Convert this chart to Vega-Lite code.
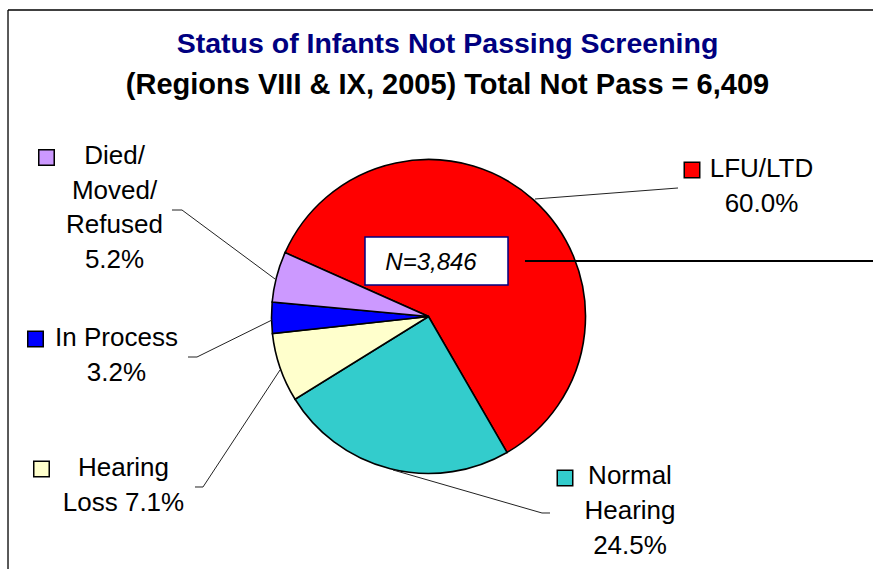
{
  "$schema": "https://vega.github.io/schema/vega-lite/v6.json",
  "width": 873,
  "height": 569,
  "padding": 0,
  "autosize": "none",
  "background": "white",
  "config": {"view": {"stroke": null}, "legend": {"disable": true}},
  "title": {
    "text": "Status of Infants Not Passing Screening",
    "subtitle": "(Regions VIII & IX, 2005) Total Not Pass = 6,409",
    "font": "Liberation Sans",
    "fontSize": 28.5,
    "fontWeight": "bold",
    "color": "#000080",
    "subtitleFont": "Liberation Sans",
    "subtitleFontSize": 29,
    "subtitleFontWeight": "bold",
    "subtitleColor": "#000000",
    "subtitlePadding": 13,
    "anchor": "middle",
    "frame": "group",
    "dx": 11,
    "offset": -100
  },
  "data": {
    "values": [
      {"cat": "LFU/LTD", "pct": 60.0, "ord": 1, "label": "LFU/LTD\n60.0%", "nText": "N=3,846"},
      {"cat": "Normal Hearing", "pct": 24.5, "ord": 2, "label": "Normal\nHearing\n24.5%"},
      {"cat": "Hearing Loss", "pct": 7.1, "ord": 3, "label": "Hearing\nLoss 7.1%"},
      {"cat": "In Process", "pct": 3.2, "ord": 4, "label": "In Process\n3.2%"},
      {"cat": "Died/Moved/Refused", "pct": 5.2, "ord": 5, "label": "Died/\nMoved/\nRefused\n5.2%"}
    ]
  },
  "layer": [
    {
      "transform": [{"filter": "datum.ord === 1"}],
      "mark": {"type": "rule", "color": "#000000", "strokeWidth": 1.3},
      "encoding": {
        "x": {"datum": -2.6783, "type": "quantitative", "scale": {"type": "linear", "domain": [-2.7293, 2.8312], "nice": false, "zero": false}, "axis": null},
        "y": {"datum": 1.9522, "type": "quantitative", "scale": {"type": "linear", "domain": [-1.6083, 2.0159], "nice": false, "zero": false}, "axis": null},
        "x2": {"datum": 2.8312},
        "y2": {"datum": 1.9522}
      }
    },
    {
      "transform": [{"filter": "datum.ord === 1"}],
      "mark": {"type": "rule", "color": "#000000", "strokeWidth": 1.3},
      "encoding": {
        "x": {"datum": -2.6783, "type": "quantitative"},
        "y": {"datum": 1.9522, "type": "quantitative"},
        "x2": {"datum": -2.6783},
        "y2": {"datum": -1.6083}
      }
    },
    {
      "mark": {"type": "arc", "outerRadius": 157, "stroke": "#000000", "strokeWidth": 1.6},
      "encoding": {
        "x": {"datum": 0, "type": "quantitative"},
        "y": {"datum": 0, "type": "quantitative"},
        "theta": {"field": "pct", "type": "quantitative", "stack": true, "scale": {"range": [5.1313, 11.4145]}},
        "order": {"field": "ord", "type": "quantitative"},
        "color": {
          "field": "cat",
          "type": "nominal",
          "scale": {
            "domain": ["LFU/LTD", "Normal Hearing", "Hearing Loss", "In Process", "Died/Moved/Refused"],
            "range": ["#FF0000", "#33CCCC", "#FFFFCC", "#0000FF", "#CC99FF"]
          }
        }
      }
    },
    {
      "transform": [{"filter": "datum.ord === 1"}],
      "layer": [
        {
          "mark": {"type": "rule", "color": "#000000", "strokeWidth": 1.8},
          "encoding": {
            "x": {"datum": 0.6146, "type": "quantitative"},
            "y": {"datum": 0.3535, "type": "quantitative"},
            "x2": {"datum": 2.8312},
            "y2": {"datum": 0.3535}
          }
        },
        {
          "mark": {"type": "rect", "fill": "#FFFFFF", "stroke": "#000080", "strokeWidth": 1.5},
          "encoding": {
            "x": {"datum": -0.4045, "type": "quantitative"},
            "x2": {"datum": 0.5064},
            "y": {"datum": 0.5064, "type": "quantitative"},
            "y2": {"datum": 0.2006}
          }
        },
        {
          "mark": {"type": "text", "font": "Liberation Sans", "fontSize": 24, "fontStyle": "italic", "align": "center", "baseline": "alphabetic", "color": "#000000"},
          "encoding": {
            "x": {"datum": 0.016, "type": "quantitative"},
            "y": {"datum": 0.296, "type": "quantitative"},
            "text": {"field": "nText"}
          }
        },
        {
          "mark": {"type": "rule", "color": "#222222", "strokeWidth": 1},
          "encoding": {
            "x": {"datum": 0.6783, "type": "quantitative"},
            "y": {"datum": 0.7484, "type": "quantitative"},
            "x2": {"datum": 1.5892},
            "y2": {"datum": 0.8185}
          }
        },
        {
          "mark": {"type": "point", "shape": "square", "filled": true, "size": 240, "stroke": "#000000", "strokeWidth": 1.5, "opacity": 1},
          "encoding": {
            "x": {"datum": 1.6783, "type": "quantitative"},
            "y": {"datum": 0.9331, "type": "quantitative"},
            "color": {"field": "cat", "type": "nominal"}
          }
        },
        {
          "mark": {"type": "text", "font": "Liberation Sans", "fontSize": 26, "lineHeight": 35, "lineBreak": "\n", "align": "center", "baseline": "alphabetic", "color": "#000000"},
          "encoding": {
            "x": {"datum": 2.121, "type": "quantitative"},
            "y": {"datum": 0.8904, "type": "quantitative"},
            "text": {"field": "label"}
          }
        }
      ]
    },
    {
      "transform": [{"filter": "datum.ord === 2"}],
      "layer": [
        {
          "mark": {"type": "rule", "color": "#222222", "strokeWidth": 1},
          "encoding": {
            "x": {"datum": -0.2261, "type": "quantitative"},
            "y": {"datum": -0.9777, "type": "quantitative"},
            "x2": {"datum": 0.7229},
            "y2": {"datum": -1.2516}
          }
        },
        {
          "mark": {"type": "rule", "color": "#222222", "strokeWidth": 1},
          "encoding": {
            "x": {"datum": 0.7229, "type": "quantitative"},
            "y": {"datum": -1.2516, "type": "quantitative"},
            "x2": {"datum": 0.7739},
            "y2": {"datum": -1.2516}
          }
        },
        {
          "mark": {"type": "point", "shape": "square", "filled": true, "size": 240, "stroke": "#000000", "strokeWidth": 1.5, "opacity": 1},
          "encoding": {
            "x": {"datum": 0.8694, "type": "quantitative"},
            "y": {"datum": -1.0287, "type": "quantitative"},
            "color": {"field": "cat", "type": "nominal"}
          }
        },
        {
          "mark": {"type": "text", "font": "Liberation Sans", "fontSize": 26, "lineHeight": 35, "lineBreak": "\n", "align": "center", "baseline": "alphabetic", "color": "#000000"},
          "encoding": {
            "x": {"datum": 1.2834, "type": "quantitative"},
            "y": {"datum": -1.0669, "type": "quantitative"},
            "text": {"field": "label"}
          }
        }
      ]
    },
    {
      "transform": [{"filter": "datum.ord === 3"}],
      "layer": [
        {
          "mark": {"type": "rule", "color": "#222222", "strokeWidth": 1},
          "encoding": {
            "x": {"datum": -1.4873, "type": "quantitative"},
            "y": {"datum": -1.086, "type": "quantitative"},
            "x2": {"datum": -1.4363},
            "y2": {"datum": -1.086}
          }
        },
        {
          "mark": {"type": "rule", "color": "#222222", "strokeWidth": 1},
          "encoding": {
            "x": {"datum": -1.4363, "type": "quantitative"},
            "y": {"datum": -1.086, "type": "quantitative"},
            "x2": {"datum": -0.9459},
            "y2": {"datum": -0.3408}
          }
        },
        {
          "mark": {"type": "point", "shape": "square", "filled": true, "size": 240, "stroke": "#000000", "strokeWidth": 1.5, "opacity": 1},
          "encoding": {
            "x": {"datum": -2.465, "type": "quantitative"},
            "y": {"datum": -0.9713, "type": "quantitative"},
            "color": {"field": "cat", "type": "nominal"}
          }
        },
        {
          "mark": {"type": "text", "font": "Liberation Sans", "fontSize": 26, "lineHeight": 35, "lineBreak": "\n", "align": "center", "baseline": "alphabetic", "color": "#000000"},
          "encoding": {
            "x": {"datum": -1.9427, "type": "quantitative"},
            "y": {"datum": -1.014, "type": "quantitative"},
            "text": {"field": "label"}
          }
        }
      ]
    },
    {
      "transform": [{"filter": "datum.ord === 4"}],
      "layer": [
        {
          "mark": {"type": "rule", "color": "#222222", "strokeWidth": 1},
          "encoding": {
            "x": {"datum": -1.5318, "type": "quantitative"},
            "y": {"datum": -0.258, "type": "quantitative"},
            "x2": {"datum": -1.4745},
            "y2": {"datum": -0.258}
          }
        },
        {
          "mark": {"type": "rule", "color": "#222222", "strokeWidth": 1},
          "encoding": {
            "x": {"datum": -1.4745, "type": "quantitative"},
            "y": {"datum": -0.258, "type": "quantitative"},
            "x2": {"datum": -0.9968},
            "y2": {"datum": -0.0223}
          }
        },
        {
          "mark": {"type": "point", "shape": "square", "filled": true, "size": 240, "stroke": "#000000", "strokeWidth": 1.5, "opacity": 1},
          "encoding": {
            "x": {"datum": -2.5032, "type": "quantitative"},
            "y": {"datum": -0.1433, "type": "quantitative"},
            "color": {"field": "cat", "type": "nominal"}
          }
        },
        {
          "mark": {"type": "text", "font": "Liberation Sans", "fontSize": 26, "lineHeight": 35, "lineBreak": "\n", "align": "center", "baseline": "alphabetic", "color": "#000000"},
          "encoding": {
            "x": {"datum": -1.9873, "type": "quantitative"},
            "y": {"datum": -0.186, "type": "quantitative"},
            "text": {"field": "label"}
          }
        }
      ]
    },
    {
      "transform": [{"filter": "datum.ord === 5"}],
      "layer": [
        {
          "mark": {"type": "rule", "color": "#222222", "strokeWidth": 1},
          "encoding": {
            "x": {"datum": -1.6338, "type": "quantitative"},
            "y": {"datum": 0.6783, "type": "quantitative"},
            "x2": {"datum": -1.5701},
            "y2": {"datum": 0.6783}
          }
        },
        {
          "mark": {"type": "rule", "color": "#222222", "strokeWidth": 1},
          "encoding": {
            "x": {"datum": -1.5701, "type": "quantitative"},
            "y": {"datum": 0.6783, "type": "quantitative"},
            "x2": {"datum": -0.9777},
            "y2": {"datum": 0.2389}
          }
        },
        {
          "mark": {"type": "point", "shape": "square", "filled": true, "size": 240, "stroke": "#000000", "strokeWidth": 1.5, "opacity": 1},
          "encoding": {
            "x": {"datum": -2.4331, "type": "quantitative"},
            "y": {"datum": 1.0127, "type": "quantitative"},
            "color": {"field": "cat", "type": "nominal"}
          }
        },
        {
          "mark": {"type": "text", "font": "Liberation Sans", "fontSize": 26, "lineHeight": 34.7, "lineBreak": "\n", "align": "center", "baseline": "alphabetic", "color": "#000000"},
          "encoding": {
            "x": {"datum": -2.0, "type": "quantitative"},
            "y": {"datum": 0.9713, "type": "quantitative"},
            "text": {"field": "label"}
          }
        }
      ]
    }
  ]
}
